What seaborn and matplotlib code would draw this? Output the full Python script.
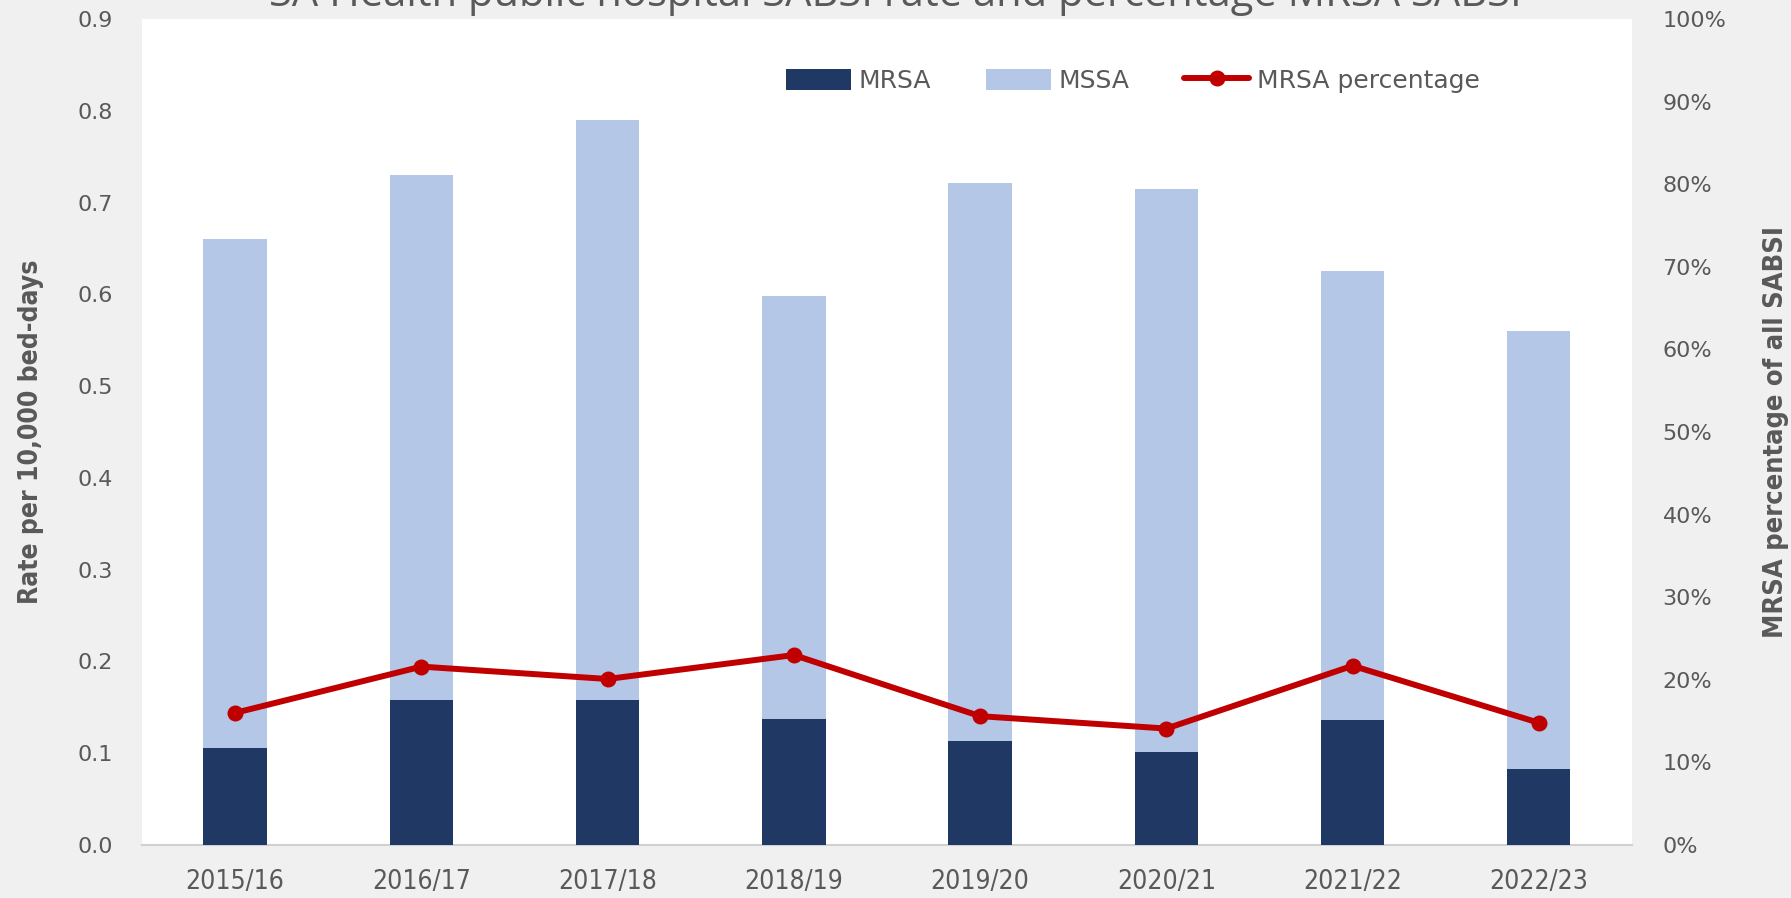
import matplotlib
matplotlib.use('Agg')
import matplotlib.pyplot as plt
import seaborn as sns
import pandas as pd
from matplotlib.ticker import PercentFormatter

# Data
years = ['2015/16', '2016/17', '2017/18', '2018/19',
         '2019/20', '2020/21', '2021/22', '2022/23']
mrsa_rate = [0.106, 0.158, 0.158, 0.137, 0.113, 0.101, 0.136, 0.083]
mssa_rate = [0.554, 0.572, 0.632, 0.461, 0.608, 0.614, 0.489, 0.477]
mrsa_pct = [16.0, 21.6, 20.1, 23.0, 15.6, 14.1, 21.7, 14.8]

title = 'SA Health public hospital SABSI rate and percentage MRSA SABSI'

navy = '#1f3864'
light = '#b4c7e7'
red = '#c00000'
grey = '#595959'
bg = '#f0f0f0'

df = pd.DataFrame({'year': years, 'mrsa': mrsa_rate, 'mssa': mssa_rate,
                   'pct': mrsa_pct})
df['total'] = df['mrsa'] + df['mssa']
df['pos'] = range(len(df))

sns.set_theme(style='white')
plt.rcParams['font.family'] = ['DejaVu Sans']

fig = plt.figure(figsize=(17.91, 8.98), dpi=100, facecolor=bg)
ax = fig.add_axes([0.0793, 0.059, 0.9112 - 0.0793, 0.9788 - 0.059])
ax.set_facecolor('white')

sns.barplot(data=df, x='year', y='total', color=light, width=0.34,
            saturation=1, ax=ax, label='MSSA', zorder=2, linewidth=0)
sns.barplot(data=df, x='year', y='mrsa', color=navy, width=0.34,
            saturation=1, ax=ax, label='MRSA', zorder=3, linewidth=0)
h1, l1 = ax.get_legend_handles_labels()
if ax.get_legend() is not None:
    ax.get_legend().remove()

ax.set_xlim(-0.5, len(years) - 0.5)
ax.set_ylim(0, 0.9)
ax.set_yticks([i / 10 for i in range(10)])
ax.set_yticklabels([f'{i / 10:.1f}' for i in range(10)])
ax.set_xlabel('')
ax.set_ylabel('Rate per 10,000 bed-days', fontsize=19, color=grey,
              fontweight='bold', fontstretch='condensed', labelpad=24)
ax.tick_params(axis='y', length=0, pad=21, labelsize=16, labelcolor=grey)
ax.tick_params(axis='x', length=0, pad=17, labelsize=19, labelcolor=grey)
for lab in ax.get_xticklabels():
    lab.set_fontstretch('condensed')
for s in ['top', 'left', 'right']:
    ax.spines[s].set_visible(False)
ax.spines['bottom'].set_color('#d0d0d0')
ax.spines['bottom'].set_linewidth(1.5)

ax2 = ax.twinx()
sns.lineplot(data=df, x='pos', y='pct', color=red, linewidth=4.3,
             marker='o', markersize=11.5, markeredgewidth=0, ax=ax2,
             label='MRSA percentage', legend=False, zorder=4)
ax2.set_ylim(0, 100)
ax2.set_yticks(range(0, 101, 10))
ax2.yaxis.set_major_formatter(PercentFormatter(decimals=0))
ax2.set_ylabel('MRSA percentage of all SABSI', fontsize=19.5, color=grey,
               fontweight='bold', fontstretch='condensed', labelpad=26,
               rotation=90)
ax2.tick_params(axis='y', length=0, pad=22, labelsize=16, labelcolor=grey)
for s in ['top', 'left', 'right', 'bottom']:
    ax2.spines[s].set_visible(False)
ax2.set_xlabel('')
ax2.grid(False)

h2, l2 = ax2.get_legend_handles_labels()
handles = dict(zip(l1 + l2, h1 + h2))
order = ['MRSA', 'MSSA', 'MRSA percentage']
leg = ax2.legend([handles[k] for k in order], order, ncol=3, frameon=False,
                 loc='center', bbox_to_anchor=(0.665, 0.925),
                 prop={'size': 18}, handlelength=2.6,
                 handleheight=0.9, columnspacing=2.2, handletextpad=0.3)
for t in leg.get_texts():
    t.set_color(grey)

fig.text(0.5, 0.993, title, ha='center', va='baseline', fontsize=30,
         color=grey, family=['Open Sans', 'DejaVu Sans'])

fig.savefig('out.png', dpi=100, facecolor=bg)
